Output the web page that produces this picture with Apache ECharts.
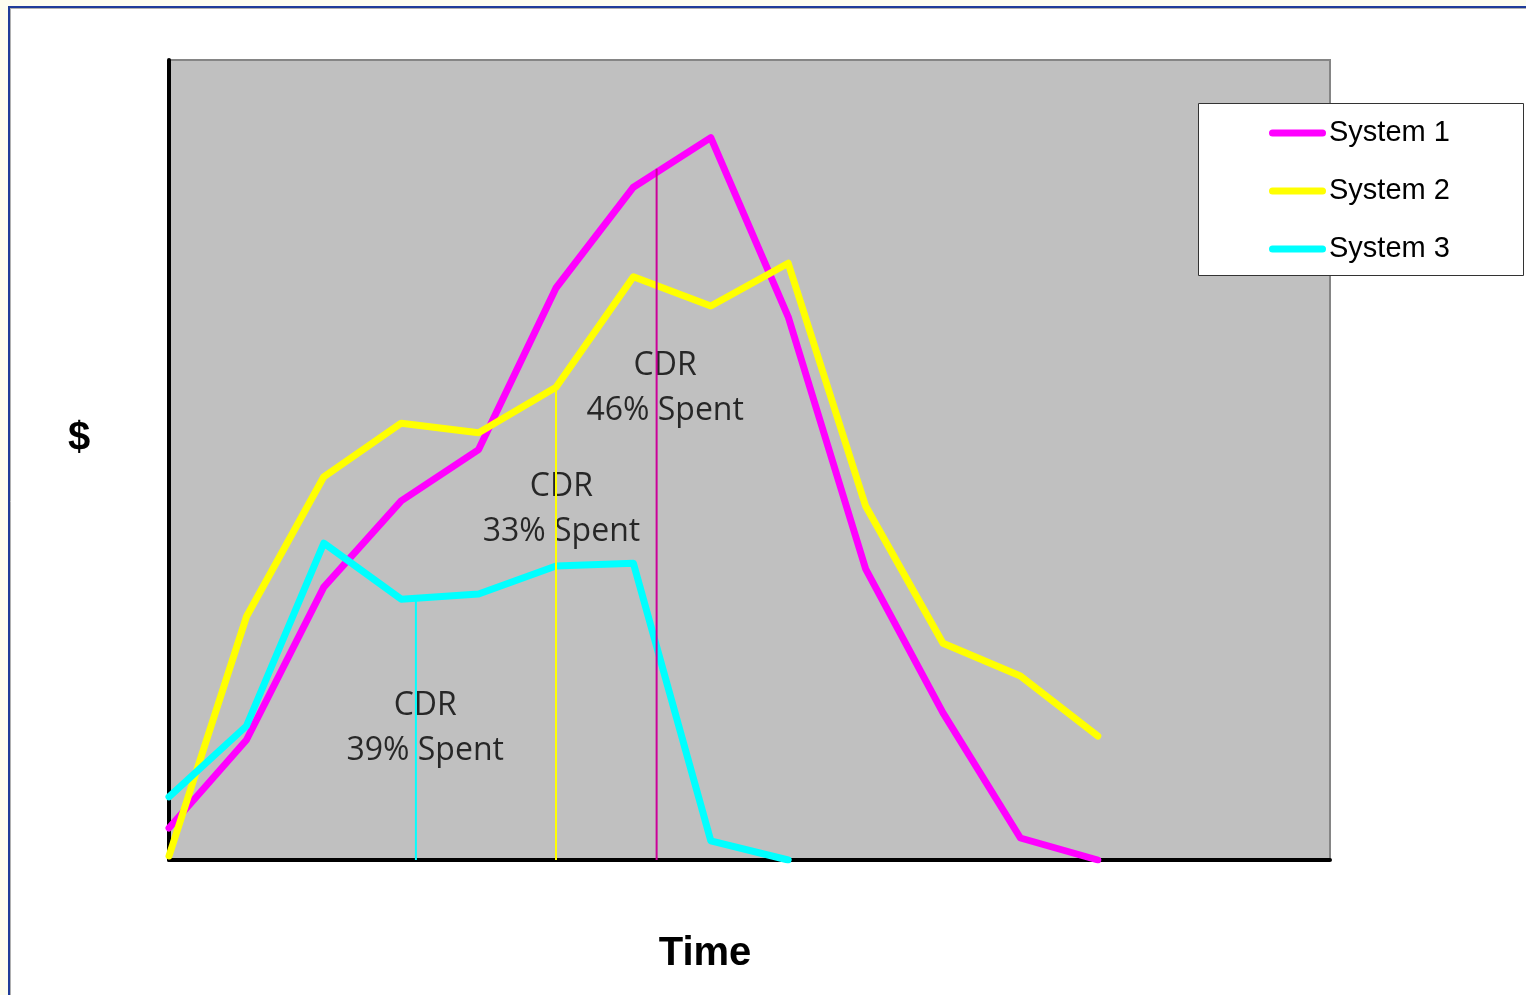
<!DOCTYPE html>
<html>
<head>
<meta charset="utf-8">
<style>html,body{margin:0;padding:0;background:#fff;}#chart{width:1526px;height:995px;}</style>
<script src="https://cdn.jsdelivr.net/npm/echarts@6/dist/echarts.min.js"></script>
</head>
<body>
<div id="chart"></div>
<script>
// ---- data ----
const timeSteps = [0, 1, 2, 3, 4, 5, 6, 7, 8, 9, 10, 11, 12];
const system1 = [4, 15, 34.1, 44.9, 51.3, 71.5, 84.1, 90.3, 67.9, 36.4, 18.4, 2.75, 0];
const system2 = [0.5, 30.4, 47.9, 54.6, 53.4, 59.1, 72.9, 69.25, 74.6, 44.25, 27.1, 23, 15.5];
const system3 = [7.9, 16.75, 39.6, 32.6, 33.25, 36.75, 37.1, 2.4, 0];
const seriesNames = ['System 1', 'System 2', 'System 3'];
const cdrX = [6.3, 5, 3.19];
const cdrTop = [86.4, 59.1, 32.6];
const cdrLabels = ['CDR\n46% Spent', 'CDR\n33% Spent', 'CDR\n39% Spent'];
const cdrLabelX = [6.41, 5.07, 3.31];
const cdrLabelY = [59.0, 43.85, 16.5];
const xTitle = 'Time';
const yTitle = '$';

const colors = ['#ff00ff', '#ffff00', '#00ffff'];
const cdrColors = ['#cc0099', '#ffff00', '#00ffff'];

function pairs(xs, ys) { return ys.map((v, i) => [xs[i], v]); }

const chart = echarts.init(document.getElementById('chart'), null, {renderer: 'canvas'});

const series = [system1, system2, system3].map((vals, i) => ({
  name: seriesNames[i],
  type: 'line',
  data: pairs(timeSteps, vals),
  symbol: 'none',
  lineStyle: {color: colors[i], width: 7, cap: 'round', join: 'round'},
  itemStyle: {color: colors[i]},
  z: 2,
  silent: true
}));

cdrX.forEach((x, i) => {
  series.push({
    name: 'cdr' + i,
    type: 'line',
    data: [[x, 0], [x, cdrTop[i]]],
    symbol: 'none',
    lineStyle: {color: cdrColors[i], width: 2},
    z: 4,
    silent: true
  });
});

series.push({
  name: 'labels',
  type: 'scatter',
  data: cdrLabels.map((t, i) => ({value: [cdrLabelX[i], cdrLabelY[i]], label: {formatter: t}})),
  symbolSize: 0,
  z: 1,
  silent: true,
  label: {
    show: true,
    position: 'inside',
    fontFamily: 'Open Sans',
    fontSize: 32,
    lineHeight: 45,
    color: '#000',
    align: 'center',
    verticalAlign: 'middle'
  }
});

chart.setOption({
  backgroundColor: '#ffffff',
  animation: false,
  grid: {
    left: 169, top: 60, right: 196, bottom: 135,
    show: true, backgroundColor: '#c0c0c0', borderColor: '#858585', borderWidth: 2
  },
  xAxis: {
    type: 'value', min: 0, max: 15,
    axisLine: {show: true, lineStyle: {color: '#000', width: 4}},
    axisTick: {show: false}, axisLabel: {show: false}, splitLine: {show: false}
  },
  yAxis: {
    type: 'value', min: 0, max: 100,
    axisLine: {show: true, lineStyle: {color: '#000', width: 4}},
    axisTick: {show: false}, axisLabel: {show: false}, splitLine: {show: false}
  },
  legend: {
    data: seriesNames,
    orient: 'vertical',
    left: 1269,
    top: 118,
    padding: 0,
    itemGap: 28,
    itemWidth: 57,
    itemHeight: 7,
    icon: 'path://M3.5 0 H53.5 A3.5 3.5 0 0 1 53.5 7 H3.5 A3.5 3.5 0 0 1 3.5 0 Z',
    textStyle: {fontFamily: 'Liberation Sans, Arial', fontSize: 29, color: '#000', lineHeight: 30, padding: [0, 0, 0, -2]},
    selectedMode: false,
    z: 20
  },
  graphic: [
    {type: 'rect', shape: {x: 0, y: 0, width: 1526, height: 6}, style: {fill: '#fdfdf0'}, silent: true},
    {type: 'rect', shape: {x: 0, y: 0, width: 8, height: 995}, style: {fill: '#fdfdf0'}, silent: true},
    {type: 'line', shape: {x1: 8, y1: 7, x2: 1526, y2: 7}, style: {stroke: '#1f3c99', lineWidth: 2}, silent: true},
    {type: 'line', shape: {x1: 9, y1: 6, x2: 9, y2: 995}, style: {stroke: '#1f3c99', lineWidth: 2}, silent: true},
    {type: 'line', shape: {x1: 10, y1: 8.5, x2: 1526, y2: 8.5}, style: {stroke: '#b0b0b0', lineWidth: 1}, silent: true},
    {type: 'line', shape: {x1: 10.5, y1: 8, x2: 10.5, y2: 995}, style: {stroke: '#b0b0b0', lineWidth: 1}, silent: true},
    {type: 'rect', z: 10, shape: {x: 1198.5, y: 103.5, width: 325, height: 172}, style: {fill: '#ffffff', stroke: '#333333', lineWidth: 1}, silent: true},
    {type: 'text', z: 10, x: 79, y: 439, style: {text: yTitle, font: 'bold 40px "Liberation Sans", Arial', fill: '#000', align: 'center', verticalAlign: 'middle'}, silent: true},
    {type: 'text', z: 10, x: 705, y: 954, style: {text: xTitle, font: 'bold 40px "Liberation Sans", Arial', fill: '#000', align: 'center', verticalAlign: 'middle'}, silent: true}
  ],
  series: series
});
</script>
</body>
</html>
